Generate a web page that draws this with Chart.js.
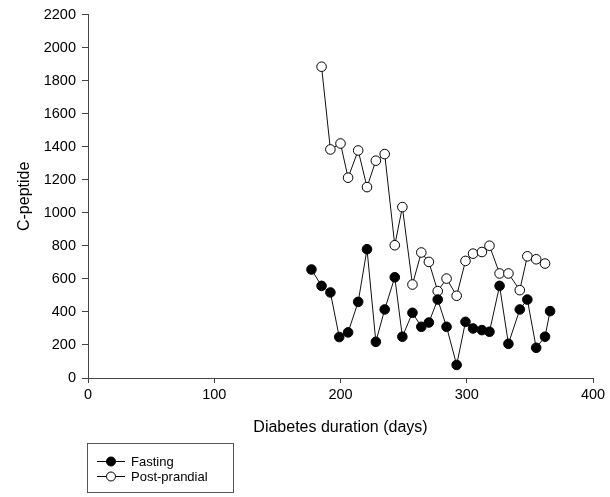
<!DOCTYPE html>
<html>
<head>
<meta charset="utf-8">
<script src="https://cdn.jsdelivr.net/npm/chart.js@4"></script>
<style>
  html, body { margin: 0; padding: 0; background: #fff; }
  #wrap { width: 610px; height: 497px; }
</style>
</head>
<body>
<div id="wrap"><canvas id="chart" width="610" height="497"></canvas></div>
<script>
// Days since diagnosis for each sample
const fastingDays = [177, 185, 192, 199, 206, 214, 221, 228, 235, 243, 249, 257, 264, 270,
                     277, 284, 292, 299, 305, 312, 318, 326, 333, 342, 348, 355, 362, 366];
const fastingValues = [657, 558, 518, 248, 276, 461, 780, 219, 415, 610, 250, 395, 310, 336,
                       475, 310, 79, 340, 300, 290, 280, 558, 207, 415, 475, 183, 250, 405];

const postDays = [185, 192, 200, 206, 214, 221, 228, 235, 243, 249, 257, 264, 270,
                  277, 284, 292, 299, 305, 312, 318, 326, 333, 342, 348, 355, 362];
const postValues = [1885, 1384, 1420, 1213, 1378, 1156, 1316, 1356, 804, 1035, 566, 760, 703,
                    526, 602, 498, 709, 753, 763, 801, 633, 633, 532, 737, 719, 693];

const xTicks = [0, 100, 200, 300, 400];
const yTicks = [0, 200, 400, 600, 800, 1000, 1200, 1400, 1600, 1800, 2000, 2200];

const FONT = '"Liberation Sans", Arial, Helvetica, sans-serif';

function toPoints(xs, ys) {
    return xs.map((x, i) => ({ x: x, y: ys[i] }));
}

// Boxed legend under the x axis title, like the original figure
const boxLegend = {
    id: 'boxLegend',
    afterDraw(chart) {
        const ctx = chart.ctx;
        ctx.save();
        ctx.strokeStyle = '#555';
        ctx.lineWidth = 1;
        ctx.strokeRect(87.5, 443.5, 146, 49);
        const rows = [
            { label: 'Fasting', fill: '#000', y: 461 },
            { label: 'Post-prandial', fill: '#fff', y: 476 }
        ];
        rows.forEach(r => {
            ctx.strokeStyle = '#000';
            ctx.beginPath();
            ctx.moveTo(97, r.y + 0.5);
            ctx.lineTo(125, r.y + 0.5);
            ctx.stroke();
            ctx.beginPath();
            ctx.arc(111, r.y + 0.5, 4.5, 0, Math.PI * 2);
            ctx.fillStyle = r.fill;
            ctx.fill();
            ctx.stroke();
            ctx.fillStyle = '#000';
            ctx.font = '13px ' + FONT;
            ctx.textBaseline = 'middle';
            ctx.fillText(r.label, 131, r.y + 1);
        });
        ctx.restore();
    }
};

const ctx = document.getElementById('chart').getContext('2d');
new Chart(ctx, {
    type: 'scatter',
    data: {
        datasets: [
            {
                label: 'Fasting',
                data: toPoints(fastingDays, fastingValues),
                showLine: true,
                borderColor: '#111',
                borderWidth: 1,
                pointRadius: 4.8,
                pointBackgroundColor: '#000',
                pointBorderColor: '#000',
                pointBorderWidth: 1
            },
            {
                label: 'Post-prandial',
                data: toPoints(postDays, postValues),
                showLine: true,
                borderColor: '#111',
                borderWidth: 1,
                pointRadius: 4.8,
                pointBackgroundColor: '#fff',
                pointBorderColor: '#000',
                pointBorderWidth: 1
            }
        ]
    },
    options: {
        responsive: false,
        animation: false,
        layout: { padding: { left: 15, right: 17, top: 14, bottom: 60 } },
        plugins: {
            legend: { display: false },
            tooltip: { enabled: false }
        },
        scales: {
            x: {
                type: 'linear',
                min: 0,
                max: 400,
                afterBuildTicks: s => { s.ticks = xTicks.map(v => ({ value: v })); },
                afterFit: s => { s.height = 59; },
                ticks: { color: '#000', font: { family: FONT, size: 14.5 }, padding: 3, callback: v => String(v) },
                grid: { drawOnChartArea: false, tickLength: 5, color: '#444' },
                border: { color: '#444', width: 1 },
                title: {
                    display: true,
                    text: 'Diabetes duration (days)',
                    color: '#000',
                    font: { family: FONT, size: 16 },
                    padding: 0
                }
            },
            y: {
                min: 0,
                max: 2200,
                afterBuildTicks: s => { s.ticks = yTicks.map(v => ({ value: v })); },
                afterFit: s => { s.width = 73; },
                ticks: { color: '#000', font: { family: FONT, size: 14.5 }, padding: 6, callback: v => String(v) },
                grid: { drawOnChartArea: false, tickLength: 6, color: '#444' },
                border: { color: '#444', width: 1 },
                title: {
                    display: true,
                    text: 'C-peptide',
                    color: '#000',
                    font: { family: FONT, size: 16 },
                    padding: 0
                }
            }
        }
    },
    plugins: [boxLegend]
});
</script>
</body>
</html>
